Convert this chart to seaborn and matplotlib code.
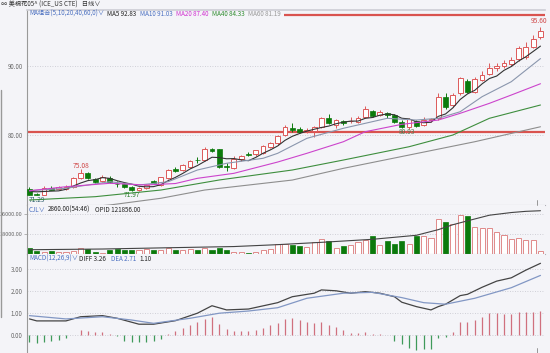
import numpy as np
import pandas as pd
import matplotlib
matplotlib.use('Agg')
import matplotlib.pyplot as plt
import seaborn as sns

# daily candles (71 sessions)
OPEN = [72.2, 71.55, 71.35, 72.4, 72.15, 72.25, 72.55, 73.75, 74.55, 73.6,
        73.4, 73.75, 72.95, 72.9, 72.45, 72.05, 72.3, 73.3, 72.85, 73.75,
        75.05, 74.95, 75.4, 76.45, 76.4, 78.0, 77.95, 75.5, 75.2, 76.5,
        77.3, 77.2, 77.45, 78.3, 78.8, 80.0, 80.95, 80.8, 80.6, 80.6,
        81.2, 82.4, 81.45, 82.05, 82.0, 81.9, 82.55, 83.45, 82.9, 83.2,
        82.9, 81.9, 81.2, 82.0, 81.45, 82.2, 82.4, 85.45, 84.3, 86.0,
        87.85, 86.25, 88.0, 88.8, 89.6, 90.0, 90.25, 90.95, 91.3, 92.75,
        94.1]
HIGH = [72.5, 71.7, 72.6, 72.6, 72.6, 72.8, 74.0, 75.08, 74.6, 73.8,
        74.2, 74.1, 73.3, 73.0, 72.6, 72.5, 72.9, 73.5, 74.0, 75.1,
        75.4, 75.8, 76.4, 76.8, 78.2, 78.1, 78.0, 75.9, 77.0, 77.1,
        77.6, 77.9, 78.5, 79.0, 80.0, 81.5, 81.7, 81.2, 81.0, 81.3,
        82.6, 83.0, 82.3, 82.2, 82.6, 82.7, 84.2, 83.6, 83.6, 83.3,
        83.0, 82.1, 82.4, 82.2, 82.6, 82.5, 86.0, 86.0, 86.0, 88.4,
        88.1, 88.3, 89.3, 90.4, 90.4, 90.8, 91.2, 92.8, 93.45, 94.4,
        95.6]
LOW = [71.35, 71.29, 71.3, 72.0, 72.0, 72.1, 72.4, 73.6, 73.7, 73.1,
       73.2, 73.1, 72.5, 72.3, 71.97, 71.98, 72.2, 72.9, 72.7, 73.6,
       74.6, 74.8, 75.3, 76.0, 76.3, 77.6, 75.2, 74.85, 75.1, 76.3,
       76.9, 77.0, 77.3, 78.1, 78.6, 79.8, 80.5, 80.3, 80.3, 79.7,
       81.0, 81.6, 81.0, 81.5, 81.8, 81.7, 82.4, 82.6, 82.7, 82.5,
       81.7, 81.0, 80.93, 81.1, 81.3, 81.9, 82.2, 83.8, 84.1, 85.8,
       86.0, 86.0, 87.8, 88.6, 89.3, 89.7, 89.9, 90.7, 91.0, 92.5,
       93.8]
CLOSE = [71.35, 71.35, 72.4, 72.1, 72.5, 72.45, 73.75, 74.55, 73.85, 73.2,
         73.9, 73.2, 72.9, 72.45, 72.1, 72.35, 72.8, 73.05, 73.9, 74.95,
         74.75, 75.67, 76.25, 76.35, 77.95, 77.75, 75.4, 75.4, 76.5, 77.0,
         77.15, 77.8, 78.4, 78.9, 79.85, 81.2, 80.7, 80.45, 80.6, 81.2,
         82.5, 81.7, 82.15, 81.7, 82.0, 82.5, 83.7, 82.75, 83.35, 82.9,
         81.9, 81.2, 82.25, 81.35, 82.15, 82.25, 85.45, 84.0, 85.75, 88.2,
         86.25, 88.05, 88.65, 89.6, 90.0, 90.35, 90.8, 92.6, 92.75, 93.8,
         95.05]
VOLUME = [5700, 3000, 2100, 3000, 2100, 2100, 3300, 6000, 4500, 2100,
          1500, 3600, 4500, 3600, 3600, 3600, 5100, 3600, 4200, 6000,
          4200, 3600, 4500, 3600, 6000, 3600, 5700, 3600, 2100, 2100,
          1200, 2100, 3600, 5100, 9600, 9600, 8100, 7200, 6600, 11100,
          13500, 11700, 6000, 7200, 8100, 11100, 12600, 16200, 8700, 11700,
          9600, 11700, 9600, 16500, 16500, 15000, 32100, 29100, 27000, 35700,
          34500, 24600, 24000, 24000, 20100, 17700, 14100, 14700, 13200, 12600,
          2700]
MACD_HIST = [-0.33, -0.38, -0.33, -0.27, -0.23, -0.12, 0.02, 0.23, 0.18, 0.12,
             0.15, 0.03, -0.03, -0.27, -0.33, -0.33, -0.33, -0.27, -0.18, 0.06,
             0.18, 0.33, 0.45, 0.58, 0.73, 0.83, 0.48, 0.27, 0.18, 0.18,
             0.18, 0.23, 0.30, 0.45, 0.53, 0.73, 0.76, 0.68, 0.61, 0.53,
             0.61, 0.45, 0.38, 0.23, 0.11, 0.08, 0.15, 0.05, 0.03, 0.0,
             -0.27, -0.42, -0.58, -0.68, -0.65, -0.64, -0.15, -0.08, 0.12, 0.61,
             0.58, 0.68, 0.83, 0.98, 0.98, 0.94, 0.94, 1.03, 1.03, 1.03,
             1.10]

MA5 = [71.85, 71.8, 71.85, 71.9, 71.94, 72.16, 72.64, 73.07, 73.42, 73.56,
       73.85, 73.74, 73.41, 73.13, 72.91, 72.6, 72.52, 72.55, 72.84, 73.41,
       73.89, 74.46, 75.1, 75.59, 76.19, 76.79, 76.74, 76.57, 76.6, 76.41,
       76.29, 76.77, 77.37, 77.85, 78.42, 79.23, 79.81, 80.22, 80.56, 80.83,
       81.09, 81.29, 81.63, 81.85, 82.01, 82.01, 82.41, 82.53, 82.86, 83.04,
       82.92, 82.42, 82.32, 81.92, 81.77, 81.84, 82.69, 83.04, 83.92, 85.13,
       85.93, 86.45, 87.38, 88.15, 88.51, 89.33, 89.88, 90.67, 91.3, 92.06,
       92.83]
# slower lines read at a few candles
MA10_X = [0, 5, 11, 15, 19, 23, 27, 32, 34, 38, 43, 49, 53, 56, 59, 62, 66, 70]
MA10 = [71.96, 72.31, 73.26, 72.78, 73.26, 74.95, 75.92, 76.64, 77.36, 79.52,
        80.97, 82.41, 82.16, 82.41, 83.36, 85.53, 87.69, 91.03]
MA20_X = [0, 5, 11, 16, 20, 23, 28, 34, 38, 43, 46, 51, 56, 59, 63, 66, 70]
MA20 = [71.96, 72.54, 73.03, 72.79, 73.0, 73.75, 74.47, 76.1, 77.36, 79.03,
        80.48, 81.54, 82.16, 83.13, 84.57, 85.77, 87.40]
MA40_X = [0, 9, 18, 26, 36, 43, 52, 58, 63, 70]
MA40 = [70.62, 71.10, 72.06, 73.51, 74.95, 76.39, 78.31, 80.0, 82.41, 84.33]
MA60_X = [0, 11, 18, 24, 36, 43, 52, 61, 70]
MA60 = [68.9, 69.9, 70.87, 72.06, 73.5, 75.19, 77.11, 79.03, 81.19]

OPID_X = [0, 10, 20, 28, 34, 40, 47, 53, 56, 58, 60, 63, 66, 68, 70]
OPID = [66500, 67500, 69500, 71000, 73700, 77000, 81300, 87000, 95000, 102000,
        107500, 115500, 119300, 121000, 121856]

DIFF_X = [0, 1, 5, 7, 10, 12, 15, 17, 20, 23, 25, 27, 30, 34, 36, 39, 40, 42, 44,
          46, 48, 50, 51, 53, 55, 56, 57, 59, 60, 62, 64, 66, 68, 70]
DIFF = [0.73, 0.64, 0.64, 0.83, 0.88, 0.76, 0.49, 0.49, 0.65, 0.99, 1.33, 1.14,
        1.18, 1.47, 1.74, 1.9, 2.05, 2.01, 1.9, 1.97, 1.9, 1.74, 1.49, 1.29,
        1.14, 1.29, 1.4, 1.79, 1.85, 2.17, 2.45, 2.6, 2.95, 3.26]
DEA_X = [0, 5, 10, 14, 17, 22, 26, 30, 34, 38, 43, 47, 51, 54, 57, 61, 66, 70]
DEA = [0.88, 0.73, 0.83, 0.68, 0.53, 0.76, 0.99, 1.09, 1.24, 1.67, 1.9, 1.94,
       1.7, 1.47, 1.4, 1.67, 2.15, 2.71]

# horizontal alert lines: (level, first candle it is drawn from)
RED_LINES = [(97.36, 34.9), (80.48, -0.34)]

BG = '#f4f4f8'
UP = '#dd5a5a'
DOWN = '#0b7a0b'

sns.set_theme(style='white', rc={'axes.facecolor': BG, 'figure.facecolor': BG})
plt.rcParams['font.family'] = ['Noto Sans CJK SC', 'DejaVu Sans']

W, H = 550, 353
fig = plt.figure(figsize=(5.5, 3.53), dpi=100)


def box(x0, y0, x1, y1):
    return [x0 / W, 1 - y1 / H, (x1 - x0) / W, (y1 - y0) / H]


ax_p = fig.add_axes(box(27, 10, 545, 205))
ax_v = fig.add_axes(box(27, 205, 545, 254.3))
ax_m = fig.add_axes(box(27, 254.3, 545, 353))

df = pd.DataFrame({'o': OPEN, 'h': HIGH, 'l': LOW, 'c': CLOSE, 'v': VOLUME, 'mh': MACD_HIST})
df['x'] = np.arange(len(df))
up = df[df.c >= df.o]
dn = df[df.c < df.o]

for ax in (ax_p, ax_v, ax_m):
    ax.set_xlim(-0.34, 70.62)
    ax.set_xticks([])
    ax.grid(axis='y', ls=(0, (1, 2)), color='#c4c4cc', lw=0.6)
    for s in ('top', 'right'):
        ax.spines[s].set_visible(False)
    ax.spines['left'].set_color('#999999')
    ax.spines['left'].set_linewidth(0.8)
    ax.spines['bottom'].set_color('#b0b0b8')
    ax.spines['bottom'].set_linewidth(0.8)
    ax.tick_params(axis='y', labelsize=4.4, labelcolor='#666666', length=2,
                   width=0.5, color='#999999', pad=1.2)
ax_v.tick_params(axis='y', labelsize=4.0)
ax_p.spines['top'].set_visible(True)
ax_p.spines['top'].set_color('#cfcfd6')

# price panel
ax_p.set_ylim(69.9, 98.04)
ax_p.set_yticks([80, 90])
ax_p.set_yticklabels(['80.00', '90.00'])
for lvl, start in RED_LINES:
    ax_p.hlines(lvl, start, 70.62, color='#d9534f', lw=1.6, zorder=1)

bw = 0.66
ax_p.vlines(up.x, up.l, up.h, color=UP, lw=0.7, zorder=2)
ax_p.bar(up.x, (up.c - up.o).clip(lower=0.06), bottom=up.o, width=bw,
         facecolor='#ffffff', edgecolor=UP, lw=0.7, zorder=3)
ax_p.vlines(dn.x, dn.l, dn.h, color=DOWN, lw=0.7, zorder=2)
ax_p.bar(dn.x, (dn.o - dn.c).clip(lower=0.06), bottom=dn.c, width=bw,
         facecolor=DOWN, edgecolor=DOWN, lw=0.5, zorder=3)

sns.lineplot(x=df.x, y=MA5, ax=ax_p, color='#333333', lw=0.8, zorder=4)
sns.lineplot(x=MA10_X, y=MA10, ax=ax_p, color='#8a96ad', lw=0.8, zorder=4)
sns.lineplot(x=MA20_X, y=MA20, ax=ax_p, color='#cc44cc', lw=0.8, zorder=4)
sns.lineplot(x=MA40_X, y=MA40, ax=ax_p, color='#3e8e3e', lw=0.8, zorder=4)
sns.lineplot(x=MA60_X, y=MA60, ax=ax_p, color='#8e8e8e', lw=0.8, zorder=4)
ax_p.set_xlim(-0.34, 70.62)
ax_p.set_ylim(69.9, 98.04)
ax_p.set_ylabel('')

ax_p.text(7, 75.5, '75.08', color='#d04848', fontsize=4.8, ha='center', va='center')
ax_p.text(14, 71.33, '71.97', color='#2f7f2f', fontsize=4.8, ha='center', va='center')
ax_p.text(1, 70.65, '71.29', color='#2f5f6f', fontsize=4.8, ha='center', va='center')
ax_p.text(51.7, 80.43, '80.93', color='#4f7a4f', fontsize=4.8, ha='center', va='center', zorder=5)
ax_p.text(69.8, 96.45, '95.60', color='#d04848', fontsize=4.8, ha='center', va='center')

# volume panel
ax_v.set_ylim(0, 44400)
ax_v.set_yticks([18000, 36000])
ax_v.set_yticklabels(['18000.00', '36000.00'])
ax_v.bar(up.x, up.v, width=0.7, facecolor='#ffffff', edgecolor='#e08a8a', lw=0.7)
ax_v.bar(dn.x, dn.v, width=0.7, facecolor=DOWN, edgecolor=DOWN, lw=0.5)
ax_v2 = ax_v.twinx()
sns.lineplot(x=OPID_X, y=OPID, ax=ax_v2, color='#444444', lw=0.8)
ax_v2.set_ylim(60000, 130000)
ax_v2.set_xlim(-0.34, 70.62)
ax_v2.set_yticks([])
ax_v2.set_ylabel('')
for s in ax_v2.spines.values():
    s.set_visible(False)

# MACD panel
ax_m.set_ylim(-0.82, 3.67)
ax_m.set_yticks([0, 1, 2, 3])
ax_m.set_yticklabels(['0.00', '1.00', '2.00', '3.00'])
pos = df[df['mh'] >= 0]
neg = df[df['mh'] < 0]
ax_m.vlines(pos.x, 0, pos['mh'], color='#d0707e', lw=0.9)
ax_m.vlines(neg.x, 0, neg['mh'], color='#3f9a5a', lw=0.9)
sns.lineplot(x=DIFF_X, y=DIFF, ax=ax_m, color='#444444', lw=0.9)
sns.lineplot(x=DEA_X, y=DEA, ax=ax_m, color='#8297c4', lw=0.9)
ax_m.set_xlim(-0.34, 70.62)
ax_m.set_ylabel('')
ax_m.spines['bottom'].set_visible(False)


def label(x, y, s, color='#222222', size=4.5):
    fig.text(x / W, 1 - y / H, s, color=color, fontsize=size, ha='left', va='center')


label(1, 4.5, '∞ 美棉花05^ (ICE_US CTE)   日线∨', '#333333')
label(29, 14, 'MA组合(5,10,20,40,60,0)∨', '#4a6fc0')
label(107, 14, 'MA5 92.83', '#222222')
label(140, 14, 'MA10 91.03', '#4a6fc0')
label(176, 14, 'MA20 87.40', '#d030d0')
label(212, 14, 'MA40 84.33', '#2e8b2e')
label(248, 14, 'MA60 81.19', '#999999')
label(29, 209.5, 'CJL∨', '#4a6fc0')
label(48, 209.5, '2860.00(54:46)', '#222222')
label(95, 209.5, 'OPID 121856.00', '#222222')
label(29, 259, 'MACD(12,26,9)∨', '#4a6fc0')
label(79, 259, 'DIFF 3.26', '#222222')
label(111, 259, 'DEA 2.71', '#4a6fc0')
label(139, 259, '1.10', '#222222')

# left edge strip and cursor marks
fig.add_artist(plt.Line2D([1 / W, 1 / W], [1 - 90 / H, 1 - 317 / H], color='#999999', lw=1))
for y0, y1 in ((200, 205), (348, 353)):
    fig.add_artist(plt.Line2D([537 / W, 537 / W], [1 - y0 / H, 1 - y1 / H], color='#888888', lw=0.6))

fig.savefig('out.png', dpi=100, facecolor=BG)
